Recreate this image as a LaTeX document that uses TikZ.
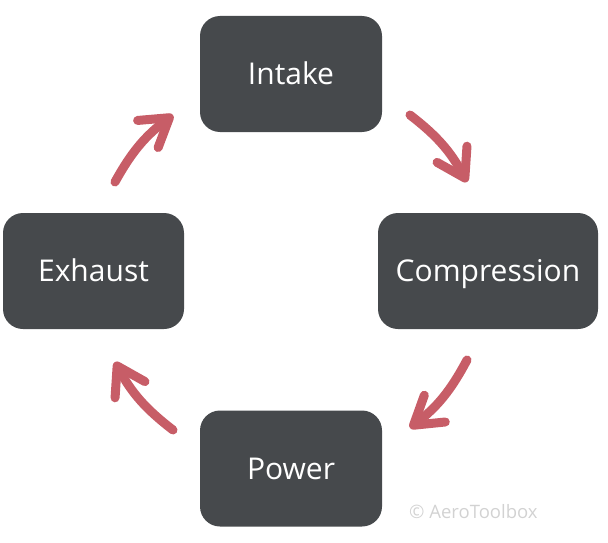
\documentclass[tikz,border=0pt]{standalone}
\usepackage{fontspec}
\setmainfont{Open Sans}
\usetikzlibrary{arrows.meta}
\definecolor{boxgray}{HTML}{46494C}
\definecolor{arrowred}{HTML}{C75D67}
\definecolor{markgray}{HTML}{D2D2D2}
\begin{document}
\begin{tikzpicture}[x=1pt,y=1pt,
  stage/.style={draw=none,fill=boxgray,rounded corners=20pt,minimum height=116pt,
    text=white,font=\fontsize{30}{36}\selectfont,inner sep=0pt,
    text height=21.4pt,text depth=0pt},
  flow/.style={draw=arrowred,line width=9pt,line cap=round,
    -{Straight Barb[length=27pt,width=34pt,round]}}]
\useasboundingbox (0,0) rectangle (608,-543);
\node[stage,minimum width=182pt] (intake) at (291,-74) {Intake};
\node[stage,minimum width=220pt] (compression) at (488,-271) {Compression};
\node[stage,minimum width=181pt] (exhaust) at (93.5,-271) {Exhaust};
\node[stage,minimum width=182pt] (power) at (291,-468.5) {Power};
\node[text=markgray,font=\fontsize{18.5}{22}\selectfont,anchor=west,inner sep=0pt] (mark) at (409,-512) {© AeroToolbox};
\coordinate (a1s) at (410,-115);
\coordinate (a1e) at (467,-182);
\coordinate (a2s) at (467,-360);
\coordinate (a2e) at (410,-428);
\coordinate (a3s) at (173,-430);
\coordinate (a3e) at (115,-362);
\coordinate (a4s) at (115,-182);
\coordinate (a4e) at (173,-115);
\draw[flow] (a1s) to[bend left=12] (a1e);
\draw[flow] (a2s) to[bend left=12] (a2e);
\draw[flow] (a3s) to[bend left=12] (a3e);
\draw[flow] (a4s) to[bend left=12] (a4e);
\end{tikzpicture}
\end{document}
